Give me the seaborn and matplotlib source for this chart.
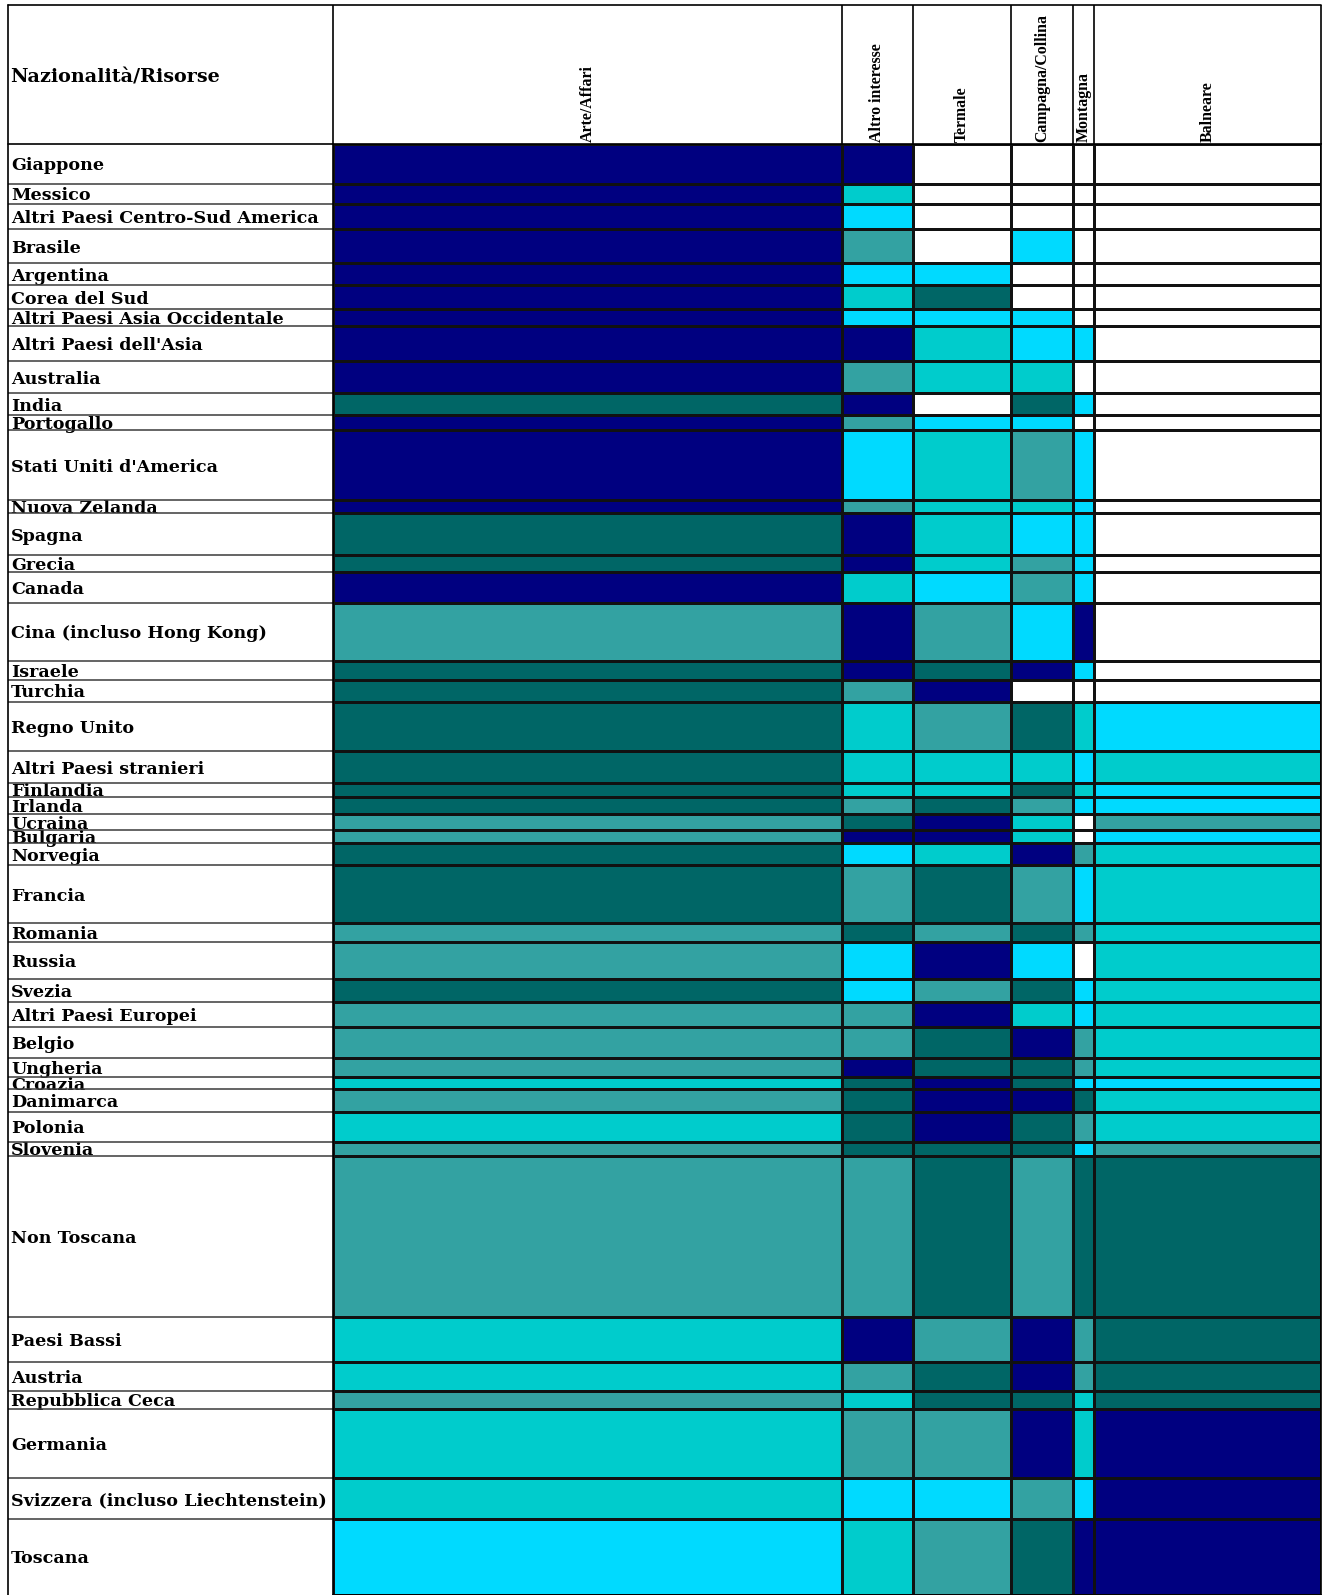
import matplotlib
matplotlib.use('Agg')
import matplotlib.pyplot as plt
import numpy as np
import seaborn as sns
from matplotlib.colors import ListedColormap, BoundaryNorm

# rows: nationality, height = weight of the row
countries = [
    'Giappone', 'Messico', 'Altri Paesi Centro-Sud America', 'Brasile', 'Argentina',
    'Corea del Sud', 'Altri Paesi Asia Occidentale', "Altri Paesi dell'Asia", 'Australia',
    'India', 'Portogallo', "Stati Uniti d'America", 'Nuova Zelanda', 'Spagna', 'Grecia',
    'Canada', 'Cina (incluso Hong Kong)', 'Israele', 'Turchia', 'Regno Unito',
    'Altri Paesi stranieri', 'Finlandia', 'Irlanda', 'Ucraina', 'Bulgaria', 'Norvegia',
    'Francia', 'Romania', 'Russia', 'Svezia', 'Altri Paesi Europei', 'Belgio', 'Ungheria',
    'Croazia', 'Danimarca', 'Polonia', 'Slovenia', 'Non Toscana', 'Paesi Bassi', 'Austria',
    'Repubblica Ceca', 'Germania', 'Svizzera (incluso Liechtenstein)', 'Toscana',
]
row_weight = [
    40, 20, 25, 34.3, 21.7, 24, 17.3, 34.7, 32.3, 21.7, 15.3, 69.7, 13.3, 42, 17,
    30.7, 58, 18.7, 22, 49.3, 32.3, 13.4, 17.8, 15.2, 13.6, 21.7, 58.3, 18.7, 37.3,
    23, 24.7, 30.7, 19, 12.6, 22.4, 29.8, 14.2, 161.6, 45, 28.4, 18.6, 69, 40.4, 76.3,
]
# columns: resource, width = share of the column
resources = ['Arte/Affari', 'Altro interesse', 'Termale', 'Campagna/Collina', 'Montagna', 'Balneare']
resource_share = [51.5, 7.2, 9.9, 6.3, 2.1, 23.0]

# class of each cell: 0 = empty, 1 = lowest ... 5 = highest
levels = [
    [5, 5, 0, 0, 0, 0],
    [5, 2, 0, 0, 0, 0],
    [5, 1, 0, 0, 0, 0],
    [5, 3, 0, 1, 0, 0],
    [5, 1, 1, 0, 0, 0],
    [5, 2, 4, 0, 0, 0],
    [5, 1, 1, 1, 0, 0],
    [5, 5, 2, 1, 1, 0],
    [5, 3, 2, 2, 0, 0],
    [4, 5, 0, 4, 1, 0],
    [5, 3, 1, 1, 0, 0],
    [5, 1, 2, 3, 1, 0],
    [5, 3, 2, 2, 1, 0],
    [4, 5, 2, 1, 1, 0],
    [4, 5, 2, 3, 1, 0],
    [5, 2, 1, 3, 1, 0],
    [3, 5, 3, 1, 5, 0],
    [4, 5, 4, 5, 1, 0],
    [4, 3, 5, 0, 0, 0],
    [4, 2, 3, 4, 2, 1],
    [4, 2, 2, 2, 1, 2],
    [4, 2, 2, 4, 2, 1],
    [4, 3, 4, 3, 1, 1],
    [3, 4, 5, 2, 0, 3],
    [3, 5, 5, 2, 0, 1],
    [4, 1, 2, 5, 3, 2],
    [4, 3, 4, 3, 1, 2],
    [3, 4, 3, 4, 3, 2],
    [3, 1, 5, 1, 0, 2],
    [4, 1, 3, 4, 1, 2],
    [3, 3, 5, 2, 1, 2],
    [3, 3, 4, 5, 3, 2],
    [3, 5, 4, 4, 3, 2],
    [2, 4, 5, 4, 1, 1],
    [3, 4, 5, 5, 4, 2],
    [2, 4, 5, 4, 3, 2],
    [3, 4, 4, 4, 1, 3],
    [3, 3, 4, 3, 4, 4],
    [2, 5, 3, 5, 3, 4],
    [2, 3, 4, 5, 3, 4],
    [3, 2, 4, 4, 2, 4],
    [2, 3, 3, 5, 2, 5],
    [2, 1, 1, 3, 1, 5],
    [1, 2, 3, 4, 5, 5],
]
level_colors = ['#FFFFFF', '#00DAFF', '#00CCCC', '#33A2A2', '#006666', '#000080']

sns.set_theme(style='white')
plt.rcParams['font.family'] = ['DejaVu Serif']
plt.rcParams['text.color'] = 'black'
plt.rcParams['xtick.color'] = 'black'
plt.rcParams['ytick.color'] = 'black'

W, H = 1322, 1595
x_border, x_table, x_right = 8, 333, 1321
y_border, y_table = 5, 144
data_w = x_right - x_table
data_h = sum(row_weight)

fig = plt.figure(figsize=(W / 100, H / 100), dpi=100)
ax = fig.add_axes([x_table / W, 1 - (y_table + data_h) / H, data_w / W, data_h / H])

x_edges = np.concatenate([[0], np.cumsum(resource_share)])
y_edges = np.concatenate([[0], np.cumsum(row_weight)])
cmap = ListedColormap(level_colors)
norm = BoundaryNorm(np.arange(-0.5, len(level_colors)), cmap.N)
ax.pcolormesh(x_edges, y_edges, np.array(levels), cmap=cmap, norm=norm,
              edgecolors='#111111', linewidth=0.9)
ax.set_xlim(x_edges[0], x_edges[-1])
ax.set_ylim(y_edges[-1], y_edges[0])

# column headers on top, rotated
ax.xaxis.tick_top()
ax.set_xticks((x_edges[:-1] + x_edges[1:]) / 2)
ax.set_xticklabels(resources, rotation=90, ha='center', va='bottom',
                   fontsize=11.4, fontweight='bold', family='Liberation Serif')
# row labels left aligned inside the label column
ax.set_yticks((y_edges[:-1] + y_edges[1:]) / 2)
ax.set_yticklabels(countries, ha='left', fontsize=12.6, fontweight='bold')
ax.tick_params(axis='x', length=0, pad=1.5)
ax.tick_params(axis='y', length=0, pad=(x_table - x_border - 3) * 0.72)
for s in ax.spines.values():
    s.set_color('black')
    s.set_linewidth(1.2)

# table frame around labels and headers
x_left = -(x_table - x_border) / data_w
y_top = 1 + (y_table - y_border) / data_h
line_kw = dict(clip_on=False, color='black', lw=1.2)
ax.hlines(y_edges[1:-1], x_left, 0, transform=ax.get_yaxis_transform(),
          colors='#3a3a3a', lw=1.1, clip_on=False)
ax.vlines(x_edges, 1, y_top, transform=ax.get_xaxis_transform(),
          colors='black', lw=1.2, clip_on=False)
ax.plot([x_left, x_left], [0, y_top], transform=ax.transAxes, **line_kw)
ax.plot([x_left, 1], [y_top, y_top], transform=ax.transAxes, **line_kw)
ax.plot([x_left, 0], [1, 1], transform=ax.transAxes, **line_kw)

ax.text(x_left + 2 / data_w, 1 + (y_table - 77) / data_h, 'Nazionalità/Risorse',
        transform=ax.transAxes, ha='left', va='center', fontsize=13.8, fontweight='bold')

fig.savefig('out.png', dpi=100)
